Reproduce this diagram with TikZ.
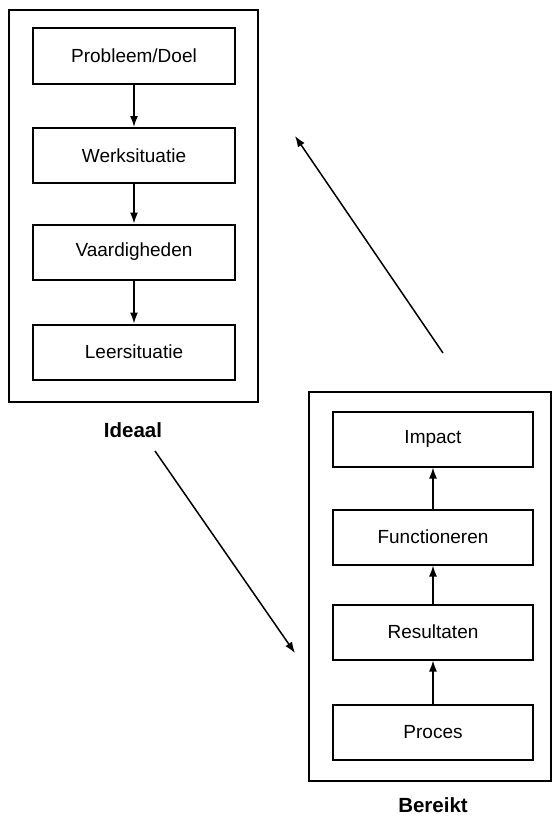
\documentclass[tikz,border=0pt]{standalone}
\usepackage{fontspec}
\setmainfont{Liberation Sans}
\usetikzlibrary{arrows.meta}
\begin{document}
\begin{tikzpicture}[x=1pt,y=-1pt,
  frame/.style={draw, line width=1.6pt, inner sep=0pt},
  stage/.style={draw, line width=2pt, minimum height=55pt, inner sep=0pt,
    font=\fontsize{19}{21}\selectfont},
  caption/.style={font=\fontsize{20.5}{22}\selectfont\bfseries},
  flow/.style={line width=1.5pt, -{Latex[length=11pt,width=8pt]}}]
  \useasboundingbox (0,0) rectangle (553,816);

  % left column: ideal sequence
  \node[frame, minimum width=249pt, minimum height=392pt] (ideal) at (133.5,206) {};
  \node[stage, minimum width=202pt] (p1) at (134,56) {Probleem/Doel};
  \node[stage, minimum width=202pt] (p2) at (134,155.5) {Werksituatie};
  \node[stage, minimum width=202pt] (p3) at (134,252) {Vaardigheden};
  \node[stage, minimum width=202pt] (p4) at (134,352) {Leersituatie};
  \node[caption] (idl) at (133,430) {Ideaal};

  \draw[flow] (p1) -- (p2);
  \draw[flow] (p2) -- (p3);
  \draw[flow] (p3) -- (p4);

  % right column: achieved sequence
  \node[frame, minimum width=242pt, minimum height=389pt] (reached) at (430,586.5) {};
  \node[stage, minimum width=200pt] (r1) at (433,439) {Impact};
  \node[stage, minimum width=200pt] (r2) at (433,537) {Functioneren};
  \node[stage, minimum width=200pt] (r3) at (433,632) {Resultaten};
  \node[stage, minimum width=200pt] (r4) at (433,732.5) {Proces};
  \node[caption] (brk) at (433,805) {Bereikt};

  \draw[flow] (r4) -- (r3);
  \draw[flow] (r3) -- (r2);
  \draw[flow] (r2) -- (r1);

  % cycle between the two columns
  \coordinate (a1) at (155,451);
  \coordinate (a2) at (295,653);
  \coordinate (b1) at (443,353);
  \coordinate (b2) at (295,136);
  \draw[flow] (a1) -- (a2);
  \draw[flow] (b1) -- (b2);
\end{tikzpicture}
\end{document}
